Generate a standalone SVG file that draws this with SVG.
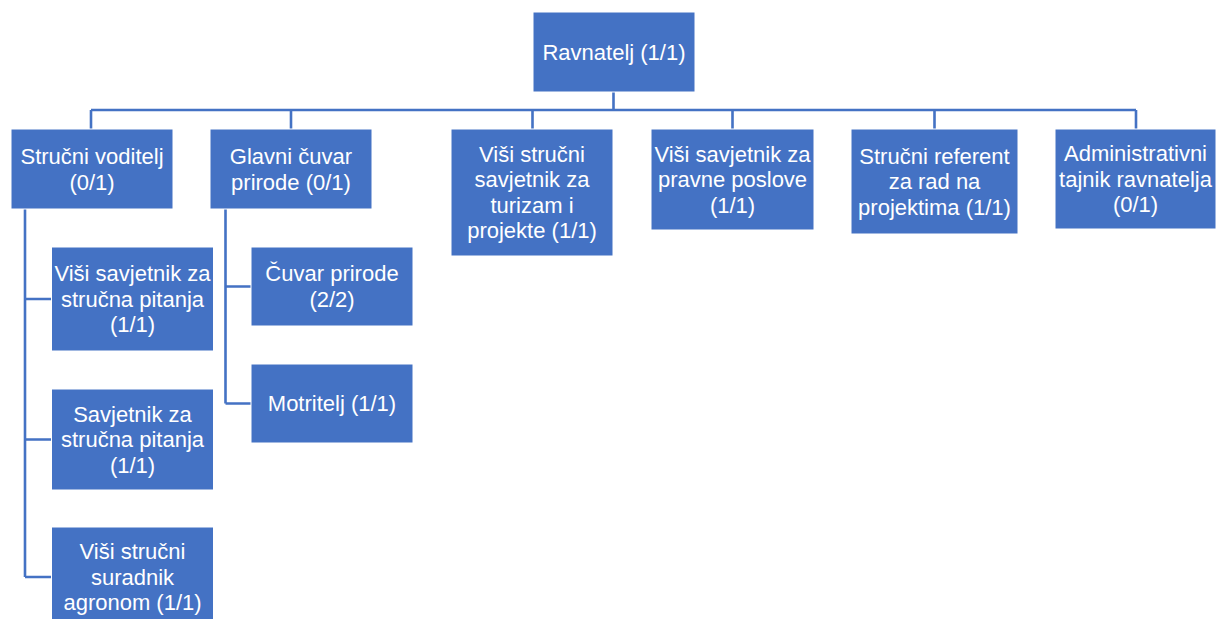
<svg xmlns="http://www.w3.org/2000/svg" width="1216" height="619" viewBox="0 0 1216 619">
<style>
.box{fill:#4472C4;stroke:#ffffff;stroke-width:1}
.lbl{font-family:"Liberation Sans",Arial,sans-serif;font-size:22px;fill:#ffffff;text-anchor:middle}
.con{fill:none;stroke:#4472C4;stroke-width:2.6}
</style>
<rect width="1216" height="619" fill="#ffffff"/>
<g id="connectors">
<path class="con" d="M613.5 92V110M91 110H1136M91 110V129M291 110V129M532.5 110V129M732.5 110V129M934.5 110V129M1136 110V129"/>
<path class="con" d="M25 209V577M25 299H51M25 439.5H51M25 577H51"/>
<path class="con" d="M225.5 209V403.5M225.5 286.5H251M225.5 403.5H251"/>
</g>
<g id="n-ravnatelj"><rect class="box" x="533" y="12" width="162" height="80"/><text class="lbl" x="614" y="59.5">Ravnatelj (1/1)</text></g>
<g id="n-strucni-voditelj"><rect class="box" x="11" y="129" width="162" height="80"/><text class="lbl" x="92" y="164">Stručni voditelj<tspan x="92" dy="25.6">(0/1)</tspan></text></g>
<g id="n-glavni-cuvar"><rect class="box" x="210" y="129" width="162" height="80"/><text class="lbl" x="291" y="164">Glavni čuvar<tspan x="291" dy="25.6">prirode (0/1)</tspan></text></g>
<g id="n-visi-strucni-savjetnik"><rect class="box" x="451" y="129" width="162" height="127"/><text class="lbl" x="532" y="161.5">Viši stručni<tspan x="532" dy="25.6">savjetnik za</tspan><tspan x="532" dy="25.6">turizam i</tspan><tspan x="532" dy="25.6">projekte (1/1)</tspan></text></g>
<g id="n-visi-savjetnik-pravne"><rect class="box" x="651" y="129" width="163" height="101"/><text class="lbl" x="732.5" y="161.5">Viši savjetnik za<tspan x="732.5" dy="25.6">pravne poslove</tspan><tspan x="732.5" dy="25.6">(1/1)</tspan></text></g>
<g id="n-strucni-referent"><rect class="box" x="851" y="129" width="167" height="105"/><text class="lbl" x="934.5" y="163.5">Stručni referent<tspan x="934.5" dy="25.6">za rad na</tspan><tspan x="934.5" dy="25.6">projektima (1/1)</tspan></text></g>
<g id="n-administrativni"><rect class="box" x="1055" y="129" width="161" height="100"/><text class="lbl" x="1135.5" y="161">Administrativni<tspan x="1135.5" dy="25.6">tajnik ravnatelja</tspan><tspan x="1135.5" dy="25.6">(0/1)</tspan></text></g>
<g id="n-visi-savjetnik-strucna"><rect class="box" x="51.5" y="247" width="162" height="104"/><text class="lbl" x="132.5" y="281">Viši savjetnik za<tspan x="132.5" dy="25.6">stručna pitanja</tspan><tspan x="132.5" dy="25.6">(1/1)</tspan></text></g>
<g id="n-savjetnik-strucna"><rect class="box" x="51.5" y="389" width="162" height="101"/><text class="lbl" x="132.5" y="421.5">Savjetnik za<tspan x="132.5" dy="25.6">stručna pitanja</tspan><tspan x="132.5" dy="25.6">(1/1)</tspan></text></g>
<g id="n-visi-strucni-suradnik"><rect class="box" x="51.5" y="527" width="162" height="100"/><text class="lbl" x="132.5" y="559">Viši stručni<tspan x="132.5" dy="25.6">suradnik</tspan><tspan x="132.5" dy="25.6">agronom (1/1)</tspan></text></g>
<g id="n-cuvar-prirode"><rect class="box" x="251" y="247" width="162" height="79"/><text class="lbl" x="332" y="281">Čuvar prirode<tspan x="332" dy="25.6">(2/2)</tspan></text></g>
<g id="n-motritelj"><rect class="box" x="251" y="364" width="162" height="79"/><text class="lbl" x="332" y="411">Motritelj (1/1)</text></g>
</svg>
